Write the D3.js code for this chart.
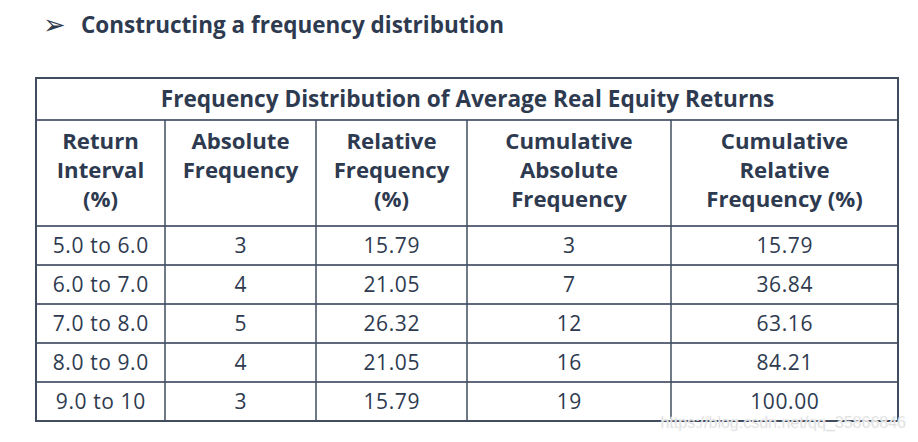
<!DOCTYPE html>
<html><head><meta charset="utf-8">
<script src="https://cdn.jsdelivr.net/npm/d3@7"></script>
<style>html,body{margin:0;padding:0;background:#fff;}svg{display:block;}</style>
</head><body>
<script>
// ---- data ----
const pageHeading = "Constructing a frequency distribution";
const tableTitle = "Frequency Distribution of Average Real Equity Returns";
const headers = [
  ["Return", "Interval", "(%)"],
  ["Absolute", "Frequency"],
  ["Relative", "Frequency", "(%)"],
  ["Cumulative", "Absolute", "Frequency"],
  ["Cumulative", "Relative", "Frequency (%)"]
];
const intervals = ["5.0 to 6.0", "6.0 to 7.0", "7.0 to 8.0", "8.0 to 9.0", "9.0 to 10"];
const absoluteFreq = [3, 4, 5, 4, 3];
const relativeFreq = ["15.79", "21.05", "26.32", "21.05", "15.79"];
const cumAbsoluteFreq = [3, 7, 12, 16, 19];
const cumRelativeFreq = ["15.79", "36.84", "63.16", "84.21", "100.00"];
const watermark = "https://blog.csdn.net/qq_35866846";

// ---- layout ----
const W = 918, H = 442;
const colEdges = [36, 165, 316, 467, 671, 898];
const tableTop = 78, titleBottom = 120, headerBottom = 226, tableBottom = 421;
const textColor = "#2e3a4f", lineColor = "#5f697b", outerColor = "#414c5e";
const font = "'Open Sans', 'Noto Sans', sans-serif";

const svg = d3.select("body").append("svg").attr("width", W).attr("height", H);

// heading
svg.append("text").attr("x", 43).attr("y", 34)
  .attr("font-family", "'DejaVu Sans', sans-serif").attr("font-size", 27)
  .attr("fill", textColor).text("\u27A2");
svg.append("text").attr("x", 81).attr("y", 33)
  .attr("font-family", font).attr("font-weight", 700).attr("font-size", 22.5)
  .attr("fill", textColor).text(pageHeading);

const cols = d3.range(5);
const x = d3.scaleOrdinal().domain(cols).range(cols.map(i => (colEdges[i] + colEdges[i + 1]) / 2));
const y = d3.scaleBand().domain(d3.range(intervals.length)).range([headerBottom, tableBottom]);

const rows = intervals.map((iv, i) => [iv, absoluteFreq[i], relativeFreq[i], cumAbsoluteFreq[i], cumRelativeFreq[i]]);

// grid lines
const g = svg.append("g");
const hLines = [titleBottom, headerBottom].concat(d3.range(1, intervals.length).map(i => y(i)));
g.selectAll("line.h").data(hLines).join("line")
  .attr("x1", colEdges[0]).attr("x2", colEdges[5])
  .attr("y1", d => d).attr("y2", d => d)
  .attr("stroke", lineColor).attr("stroke-width", 2);
g.selectAll("line.v").data(colEdges.slice(1, 5)).join("line")
  .attr("class", "v")
  .attr("x1", d => d).attr("x2", d => d)
  .attr("y1", titleBottom).attr("y2", tableBottom)
  .attr("stroke", outerColor).attr("stroke-width", 1.5);
g.append("rect").attr("x", colEdges[0]).attr("y", tableTop)
  .attr("width", colEdges[5] - colEdges[0]).attr("height", tableBottom - tableTop)
  .attr("fill", "none").attr("stroke", outerColor).attr("stroke-width", 2);

// table title
svg.append("text").attr("x", (colEdges[0] + colEdges[5]) / 2 + 0.5).attr("y", 106.5)
  .attr("text-anchor", "middle").attr("font-family", font).attr("font-weight", 700)
  .attr("font-size", 22.6).attr("fill", textColor).text(tableTitle);

// headers
const hg = svg.append("g").attr("font-family", font).attr("font-weight", 700)
  .attr("font-size", 22.2).attr("fill", textColor).attr("text-anchor", "middle");
headers.forEach((lines, c) => {
  lines.forEach((ln, k) => {
    hg.append("text").attr("x", x(c)).attr("y", 149 + k * 29).text(ln);
  });
});

// body cells
const bg = svg.append("g").attr("font-family", font).attr("font-size", 21)
  .attr("letter-spacing", 0.6)
  .attr("fill", textColor).attr("text-anchor", "middle");
rows.forEach((r, i) => {
  r.forEach((v, c) => {
    bg.append("text").attr("x", x(c) + 0.3).attr("y", y(i) + y.bandwidth() / 2 + 7.5).text(v);
  });
});

// watermark
svg.append("text").attr("x", 906).attr("y", 428).attr("text-anchor", "end")
  .attr("font-family", "'Liberation Sans', Arial, sans-serif").attr("font-size", 16)
  .attr("fill", "#d8d8d8").attr("stroke", "#f4f4f4").attr("stroke-width", 0.5)
  .text(watermark);
</script>
</body></html>
